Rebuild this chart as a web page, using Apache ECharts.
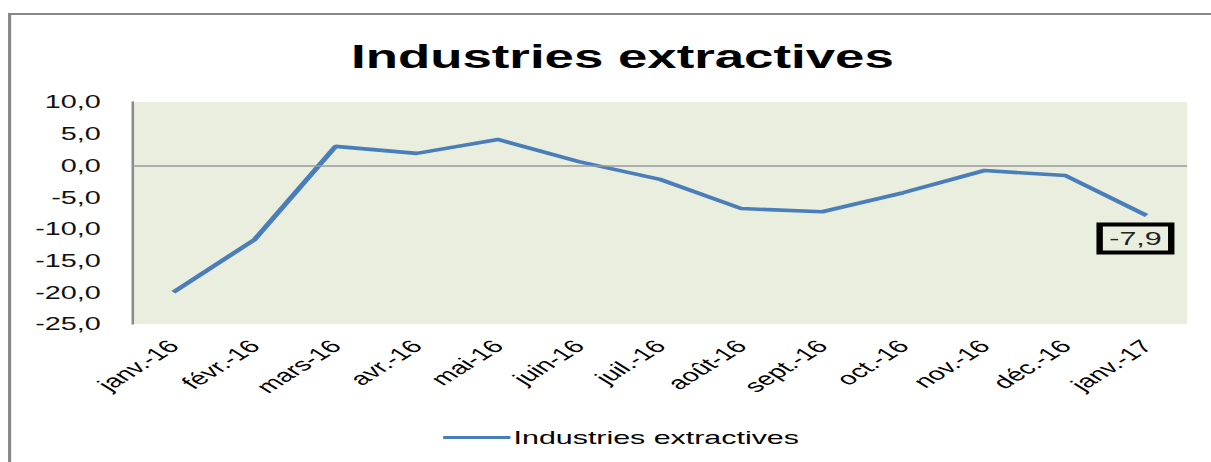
<!DOCTYPE html>
<html>
<head>
<meta charset="utf-8">
<script src="https://cdn.jsdelivr.net/npm/echarts@6/dist/echarts.min.js"></script>
<style>
html,body{margin:0;padding:0;background:#fff;overflow:hidden;width:1211px;height:462px;}
#chart{width:757px;height:462px;transform:scaleX(1.6);transform-origin:0 0;}
</style>
</head>
<body>
<div id="chart"></div>
<script>
const categories = ['janv.-16','févr.-16','mars-16','avr.-16','mai-16','juin-16','juil.-16','août-16','sept.-16','oct.-16','nov.-16','déc.-16','janv.-17'];
const values = [-20.0, -11.7, 3.0, 1.9, 4.1, 0.6, -2.2, -6.8, -7.3, -4.3, -0.8, -1.6, -7.9];
const seriesName = 'Industries extractives';
const yMin = -25, yMax = 10, yStep = 5;

const FONT = 'Liberation Sans, Arial, sans-serif';
const fmt = v => v.toFixed(1).replace('.', ',');
const chart = echarts.init(document.getElementById('chart'), null, {renderer: 'svg', width: 757, height: 462});
chart.setOption({
  animation: false,
  backgroundColor: '#ffffff',
  title: {
    text: 'Industries extractives',
    left: 384, textAlign: 'center',
    top: 35,
    textStyle: {fontFamily: FONT, fontWeight: 'bold', fontSize: 33, color: '#000'}
  },
  legend: {
    top: 423,
    left: 272,
    itemWidth: 42,
    itemHeight: 3,
    itemGap: 4,
    icon: 'rect',
    textStyle: {fontFamily: FONT, fontSize: 19, color: '#000', padding: [0,0,0,-3]},
    data: [seriesName]
  },
  grid: {left: 83, right: 15, top: 102, bottom: 138, show: true, backgroundColor: '#EAEEDE', borderWidth: 0},
  xAxis: {
    type: 'category',
    data: categories,
    boundaryGap: true,
    axisLine: {show: false},
    axisTick: {show: false},
    axisLabel: {rotate: 45, margin: 19, fontFamily: FONT, fontSize: 18, color: '#000'}
  },
  yAxis: {
    type: 'value',
    min: yMin, max: yMax, interval: yStep,
    axisLine: {show: true, lineStyle: {color: '#8c8c8c', width: 1.6}},
    axisTick: {show: false},
    splitLine: {show: false},
    axisLabel: {margin: 20, formatter: fmt, fontFamily: FONT, fontSize: 18, color: '#111'}
  },
  series: [{
    name: seriesName,
    type: 'line',
    data: values,
    symbol: 'none',
    lineStyle: {color: '#4A7EBB', width: 3.6},
    itemStyle: {color: '#4A7EBB'},
    markLine: {
      silent: true, symbol: 'none',
      label: {show: false},
      lineStyle: {color: '#9a9a9a', width: 1.6, type: 'solid'},
      data: [{yAxis: 0}]
    },
    markPoint: {
      symbol: 'rect', symbolSize: 1,
      itemStyle: {color: 'transparent'},
      data: [{coord: [categories.length - 1, values[values.length - 1]], value: values[values.length - 1]}],
      label: {
        show: true,
        formatter: p => fmt(p.value),
        offset: [-7, 23],
        fontFamily: FONT, fontSize: 19, color: '#222',
        borderColor: '#000', borderWidth: 2,
        padding: [5, 6, 4, 6],
        backgroundColor: 'transparent'
      }
    }
  }],
  graphic: [
    {type: 'rect', shape: {x: 5, y: 13, width: 760, height: 2}, style: {fill: '#888'}},
    {type: 'rect', shape: {x: 5, y: 13, width: 2, height: 449}, style: {fill: '#888'}}
  ]
});
</script>
</body>
</html>
